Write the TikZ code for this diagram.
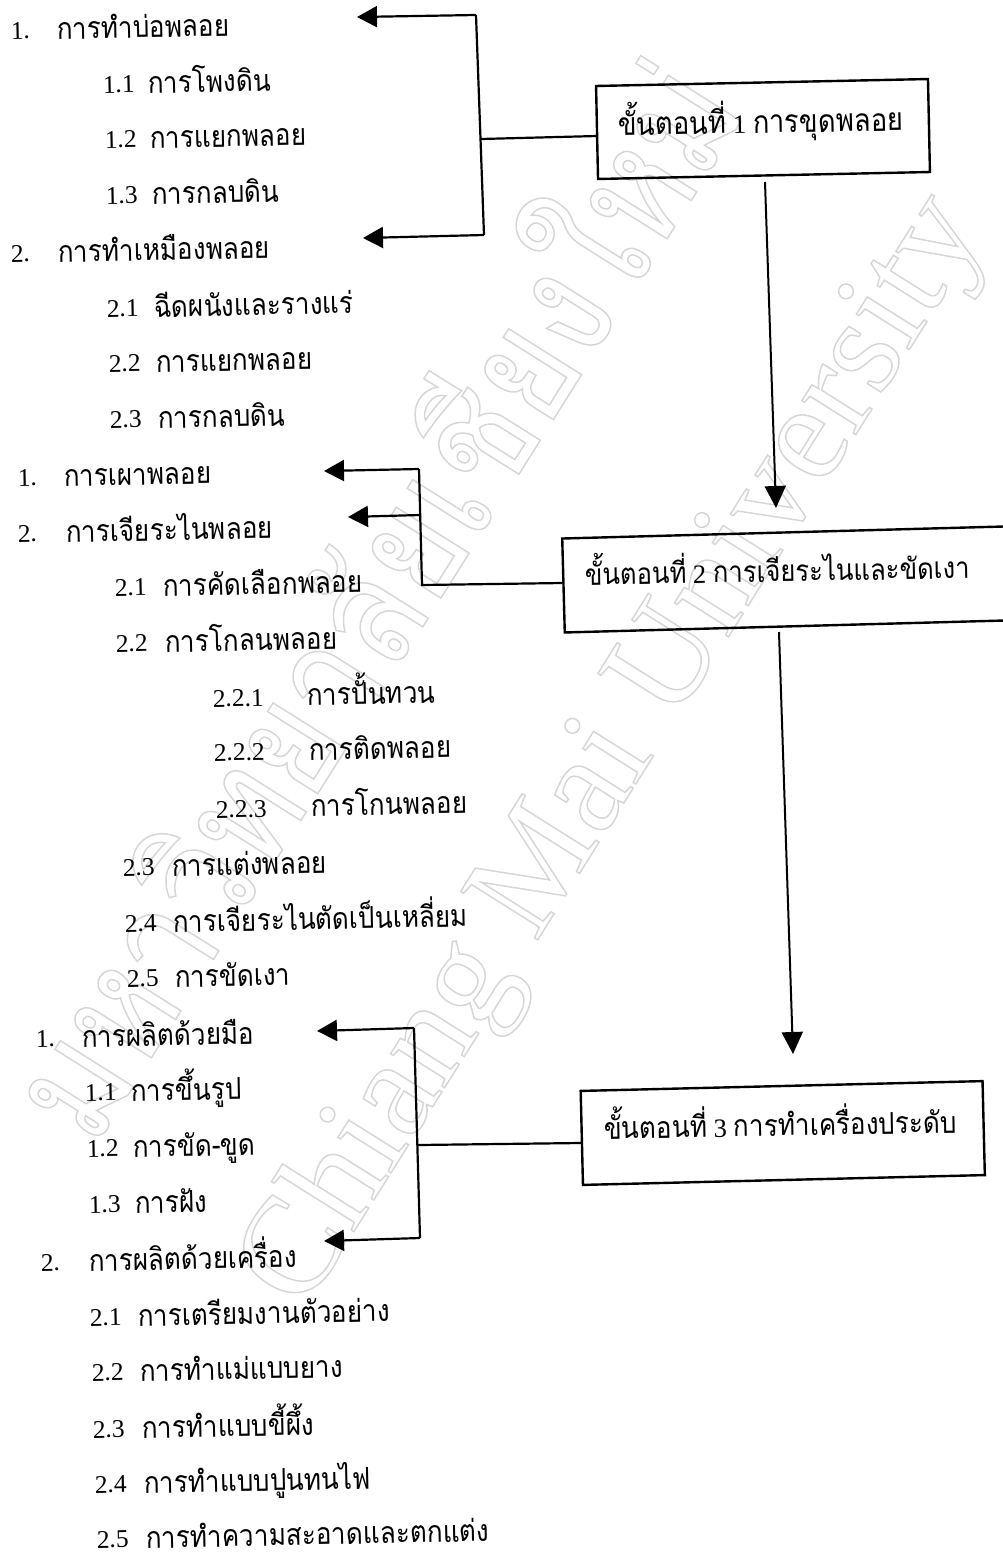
\documentclass[tikz,border=0pt]{standalone}
\usepackage{fontspec}
\setmainfont{Liberation Serif}
\newfontfamily\thaifont[Script=Thai,FakeStretch=0.87]{Loma}
\newfontfamily\wmthai[Script=Thai,FakeStretch=0.847]{Loma}
\usetikzlibrary{arrows.meta}
\newcommand{\outlined}[1]{\special{pdf:code q 1 Tr 1.5 w 0.84 0.84 0.84 RG}#1\special{pdf:code Q}}
\newcommand{\boxfont}[1]{\fontsize{#1}{#1}\selectfont\thaifont}
\tikzset{
  num/.style={anchor=base west,inner sep=0pt,outer sep=0pt,rotate=1.2,font=\fontsize{25.5}{28}\selectfont},
  item/.style={anchor=base west,inner sep=0pt,outer sep=0pt,rotate=1.2,yshift=-1.5pt,font=\fontsize{30}{32}\selectfont\thaifont},
  boxtext/.style={anchor=base west,inner sep=0pt,outer sep=0pt,font=\fontsize{26.5}{28}\selectfont},
  stagebox/.style={draw,line width=2.4pt,inner sep=0pt,outer sep=0pt},
  link/.style={line width=2.2pt},
  arrowlink/.style={line width=2.2pt,-{Triangle[length=20pt,width=21pt]}},
  flowarrow/.style={line width=2pt,-{Triangle[length=22pt,width=21pt]}},
  wmark/.style={anchor=base west,inner sep=0pt,outer sep=0pt,rotate=57.8}
}
\begin{document}
\begin{tikzpicture}[x=1pt,y=-1pt]
\useasboundingbox (0,0) rectangle (1002,1556);
% watermark
\node[wmark] (wm1) at (94,1149) {\fontsize{155}{160}\selectfont\wmthai\outlined{มหาวิทยาลัยเชียงใหม่}};
\node[wmark] (wm2) at (303,1312.5) {\fontsize{139}{145}\selectfont\outlined{Chiang Mai University}};
% boxes
\node[stagebox,minimum width=332pt,minimum height=93pt,rotate=1.2] (box1) at (763,129) {};
\node[stagebox,minimum width=470pt,minimum height=94pt,rotate=1.56] (box2) at (798.4,579.1) {};
\node[stagebox,minimum width=402pt,minimum height=94pt,rotate=1.4] (box3) at (782.75,1133) {};
\node[boxtext,rotate=1.0] (t1) at (618,135.5) {{\boxfont{31.5}ขั้นตอนที่} 1 {\boxfont{31.5}การขุดพลอย}};
\node[boxtext,rotate=1.0] (t2) at (585,585) {{\boxfont{29.5}ขั้นตอนที่} 2 {\boxfont{29.5}การเจียระไนและขัดเงา}};
\node[boxtext,rotate=1.0] (t3) at (604,1139) {{\boxfont{30}ขั้นตอนที่} 3 {\boxfont{30}การทำเครื่องประดับ}};
% list 1
\node[num] (a0) at (11,39) {1.}; \node[item] (a0t) at (57,38) {การทำบ่อพลอย};
\node[num] (a1) at (103,93) {1.1}; \node[item] (a1t) at (148,92) {การโพงดิน};
\node[num] (a2) at (105,148) {1.2}; \node[item] (a2t) at (150,147) {การแยกพลอย};
\node[num] (a3) at (106,204) {1.3}; \node[item] (a3t) at (152,203) {การกลบดิน};
\node[num] (a4) at (11,262) {2.}; \node[item] (a4t) at (58,261) {การทำเหมืองพลอย};
\node[num] (a5) at (107,317) {2.1}; \node[item] (a5t) at (154,316) {ฉีดผนังและรางแร่};
\node[num] (a6) at (109,372) {2.2}; \node[item] (a6t) at (156,371) {การแยกพลอย};
\node[num] (a7) at (110,428) {2.3}; \node[item] (a7t) at (158,427) {การกลบดิน};
% list 2
\node[num] (b0) at (18,486) {1.}; \node[item] (b0t) at (64,485) {การเผาพลอย};
\node[num] (b1) at (18,542) {2.}; \node[item] (b1t) at (66,541) {การเจียระไนพลอย};
\node[num] (b2) at (115,596) {2.1}; \node[item] (b2t) at (163,595) {การคัดเลือกพลอย};
\node[num] (b3) at (116,652) {2.2}; \node[item] (b3t) at (165,651) {การโกลนพลอย};
\node[num] (b4) at (213,707) {2.2.1}; \node[item] (b4t) at (307,704) {การปั้นทวน};
\node[num] (b5) at (214,761) {2.2.2}; \node[item] (b5t) at (309,759) {การติดพลอย};
\node[num] (b6) at (216,818) {2.2.3}; \node[item] (b6t) at (311,815) {การโกนพลอย};
\node[num] (b7) at (123,876) {2.3}; \node[item] (b7t) at (172,875) {การแต่งพลอย};
\node[num] (b8) at (125,932) {2.4}; \node[item] (b8t) at (173,931) {การเจียระไนตัดเป็นเหลี่ยม};
\node[num] (b9) at (127,987) {2.5}; \node[item] (b9t) at (175,986) {การขัดเงา};
% list 3
\node[num] (c0) at (36,1047) {1.}; \node[item] (c0t) at (82,1046) {การผลิตด้วยมือ};
\node[num] (c1) at (85,1101) {1.1}; \node[item] (c1t) at (131,1100) {การขึ้นรูป};
\node[num] (c2) at (87,1157) {1.2}; \node[item] (c2t) at (133,1156) {การขัด-ขูด};
\node[num] (c3) at (89,1213) {1.3}; \node[item] (c3t) at (135,1212) {การฝัง};
\node[num] (c4) at (41,1271) {2.}; \node[item] (c4t) at (89,1270) {การผลิตด้วยเครื่อง};
\node[num] (c5) at (90,1326) {2.1}; \node[item] (c5t) at (138,1325) {การเตรียมงานตัวอย่าง};
\node[num] (c6) at (92,1381) {2.2}; \node[item] (c6t) at (140,1380) {การทำแม่แบบยาง};
\node[num] (c7) at (93,1438) {2.3}; \node[item] (c7t) at (142,1437) {การทำแบบขี้ผึ้ง};
\node[num] (c8) at (95,1493) {2.4}; \node[item] (c8t) at (144,1492) {การทำแบบปูนทนไฟ};
\node[num] (c9) at (97,1548) {2.5}; \node[item] (c9t) at (146,1547) {การทำความสะอาดและตกแต่ง};
% connector coordinates
\coordinate (p1a) at (357,17); \coordinate (p1b) at (476,15); \coordinate (p1c) at (484,235); \coordinate (p1d) at (363,238);
\coordinate (j1) at (481,139); \coordinate (e1) at (597,136);
\coordinate (p2a) at (324,471); \coordinate (p2b) at (419,469); \coordinate (p2c) at (422,585); \coordinate (e2) at (563,583);
\coordinate (p2d) at (348,517); \coordinate (j2a) at (420,515);
\coordinate (p3a) at (317,1031); \coordinate (p3b) at (414,1028); \coordinate (p3c) at (420,1238); \coordinate (p3d) at (324,1241);
\coordinate (j3) at (418,1145); \coordinate (e3) at (581,1143);
\coordinate (f1s) at (765,182); \coordinate (f1e) at (776,508);
\coordinate (f2s) at (779,632); \coordinate (f2e) at (793,1054);
% connectors
\draw[arrowlink] (p1b) -- (p1a);
\draw[link] (p1b) -- (p1c);
\draw[arrowlink] (p1c) -- (p1d);
\draw[link] (j1) -- (e1);
\draw[arrowlink] (p2b) -- (p2a);
\draw[link] (p2b) -- (p2c) -- (e2);
\draw[arrowlink] (j2a) -- (p2d);
\draw[arrowlink] (p3b) -- (p3a);
\draw[link] (p3b) -- (p3c);
\draw[arrowlink] (p3c) -- (p3d);
\draw[link] (j3) -- (e3);
\draw[flowarrow] (f1s) -- (f1e);
\draw[flowarrow] (f2s) -- (f2e);
\end{tikzpicture}
\end{document}
